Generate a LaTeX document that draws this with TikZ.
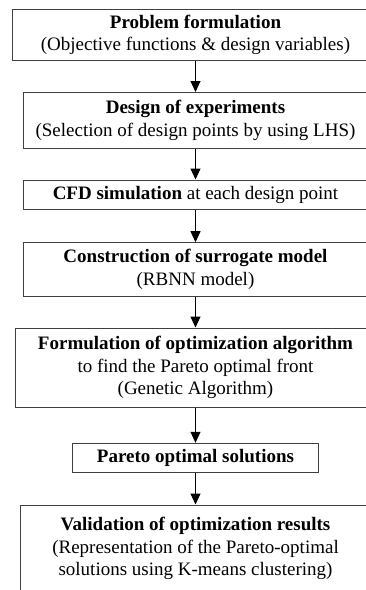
\documentclass[tikz,border=0pt]{standalone}
\usepackage{fontspec}
\setmainfont{Liberation Serif}
\usetikzlibrary{arrows.meta}
\begin{document}
\begin{tikzpicture}[x=1pt,y=-1pt,
  box/.style={draw=black!75, line width=1pt, align=center, inner sep=0pt,
    font=\fontsize{19}{22.5}\selectfont},
  flow/.style={-{Triangle[length=11pt,width=10pt]}, line width=1pt}]
\useasboundingbox (0,0) rectangle (366,590);
\node[box, minimum width=366pt, minimum height=51.5pt] (p) at (195.5,34.75)
  {\textbf{Problem formulation}\\(Objective functions \& design variables)};
\node[box, minimum width=344pt, minimum height=55.5pt] (d) at (195.5,120.25)
  {\textbf{Design of experiments}\\(Selection of design points by using LHS)};
\node[box, minimum width=344pt, minimum height=29pt] (c) at (195.5,194.5)
  {\textbf{CFD simulation} at each design point};
\node[box, minimum width=344pt, minimum height=53.3pt] (s) at (195.5,269.35)
  {\textbf{Construction of surrogate model}\\(RBNN model)};
\node[box, minimum width=361pt, minimum height=79pt] (o) at (195.5,367.5)
  {\textbf{Formulation of optimization algorithm}\\to find the Pareto optimal front\\(Genetic Algorithm)};
\node[box, minimum width=246pt, minimum height=28.7pt] (r) at (195.5,457.65)
  {\textbf{Pareto optimal solutions}};
\node[box, minimum width=349.6pt, minimum height=87pt] (v) at (195.5,548.5)
  {\textbf{Validation of optimization results}\\(Representation of the Pareto-optimal\\solutions using K-means clustering)};
\draw[flow] (p) -- (d);
\draw[flow] (d) -- (c);
\draw[flow] (c) -- (s);
\draw[flow] (s) -- (o);
\draw[flow] (o) -- (r);
\draw[flow] (r) -- (v);
\end{tikzpicture}
\end{document}
